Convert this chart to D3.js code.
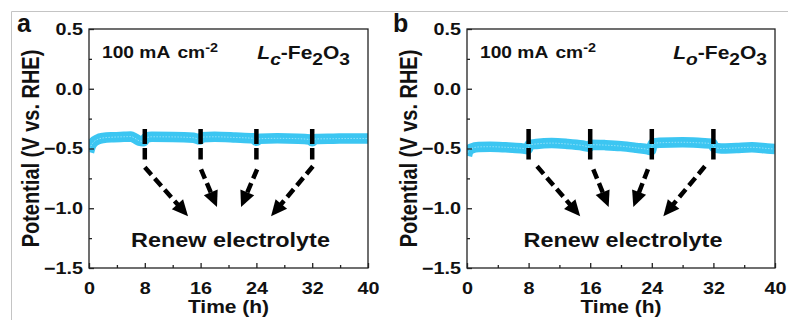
<!DOCTYPE html>
<html>
<head>
<meta charset="utf-8">
<script src="https://cdn.jsdelivr.net/npm/d3@7"></script>
<style>
  html, body { margin: 0; padding: 0; background: #fff; }
  svg { display: block; font-family: "Liberation Sans", Arial, sans-serif; font-weight: bold; }
</style>
</head>
<body>
<svg id="fig" width="788" height="320"></svg>
<script>
// Potential vs. time at 100 mA cm-2; the electrolyte is renewed every 8 h.
const timeLc = [0, 0.2, 0.6, 1.2, 2, 3.5, 5, 6, 6.6, 7.2, 7.8, 8.2, 9, 12, 15, 15.9, 16.2, 18, 21, 23.5, 24, 24.5, 27, 30, 31.6, 32, 32.5, 35, 38, 40];
const potentialLc = [-0.53, -0.49, -0.45, -0.425, -0.412, -0.405, -0.402, -0.40, -0.415, -0.435, -0.44, -0.41, -0.402, -0.403, -0.41, -0.425, -0.405, -0.402, -0.408, -0.415, -0.435, -0.418, -0.415, -0.418, -0.425, -0.44, -0.42, -0.418, -0.416, -0.416];

const timeLo = [0, 0.2, 0.6, 1.5, 3, 5, 7, 7.9, 8.1, 9, 11, 13, 15, 15.9, 16.1, 18, 20, 22, 23.5, 23.9, 24.1, 25, 28, 30, 31.9, 32.1, 33, 35, 37, 39, 40];
const potentialLo = [-0.56, -0.52, -0.50, -0.487, -0.485, -0.49, -0.498, -0.505, -0.47, -0.462, -0.455, -0.462, -0.475, -0.485, -0.468, -0.472, -0.48, -0.495, -0.508, -0.515, -0.462, -0.452, -0.448, -0.452, -0.46, -0.49, -0.50, -0.495, -0.49, -0.50, -0.505];

const renewTimes = [8, 16, 24, 32];
const renewMarkSpan = [-0.337, -0.592];   // potential range covered by each renewal mark

const xTickValues = [0, 8, 16, 24, 32, 40];
const xTickLabels = ["0", "8", "16", "24", "32", "40"];
const xMinorTicks = [4, 12, 20, 28, 36];
const yTickValues = [0.5, 0, -0.5, -1, -1.5];
const yTickLabels = ["0.5", "0.0", "\u22120.5", "\u22121.0", "\u22121.5"];
const yMinorTicks = [0.25, -0.25, -0.75, -1.25];

// Annotation arrows in data units: [t0, V0, t1, V1]
const arrowsLc = [[8.0, -0.657, 14.2, -1.067], [16.06, -0.674, 18.35, -0.99], [24.1, -0.674, 21.8, -0.99], [32.1, -0.649, 26.1, -1.067]];
const arrowsLo = [[9.1, -0.649, 14.7, -1.067], [16.4, -0.674, 18.4, -0.99], [23.5, -0.674, 21.6, -0.99], [30.9, -0.649, 25.5, -1.067]];

const SX = 1.2;               // horizontal glyph stretch used for all labels
const BLUE = "#3cc6f2";
const INK = "#111";

const svg = d3.select("#fig");

// thin grey figure border
svg.append("path")
  .attr("d", "M11.5,320 L11.5,11.5 L788,11.5")
  .attr("fill", "none").attr("stroke", "#c4c4c4").attr("stroke-width", 1);

function stretchedText(g, x, y, anchor, size) {
  return g.append("text")
    .attr("transform", `translate(${x},${y}) scale(${SX},1)`)
    .attr("text-anchor", anchor)
    .attr("font-size", size)
    .attr("fill", INK);
}

function drawPanel(cfg) {
  const g = svg.append("g");
  const x = d3.scaleLinear().domain([0, 40]).range([cfg.left, cfg.right]);
  const y = d3.scaleLinear().domain([-1.5, 0.5]).range([cfg.bottom, cfg.top]);

  const clipId = "clip-" + cfg.id;
  svg.append("clipPath").attr("id", clipId)
    .append("rect")
    .attr("x", cfg.left).attr("y", cfg.top)
    .attr("width", cfg.right - cfg.left).attr("height", cfg.bottom - cfg.top);

  // measured trace
  const pts = cfg.time.map((t, i) => [t, cfg.potential[i]]);
  const line = d3.line().x(d => x(d[0])).y(d => y(d[1])).curve(d3.curveMonotoneX);
  const trace = g.append("g").attr("clip-path", `url(#${clipId})`);
  trace.append("path").attr("d", line(pts))
    .attr("fill", "none").attr("stroke", BLUE).attr("stroke-width", 10.5)
    .attr("stroke-linejoin", "round").attr("stroke-linecap", "butt");
  trace.append("path").attr("d", line(pts))
    .attr("fill", "none").attr("stroke", "#c8f1fd").attr("stroke-width", 1)
    .attr("stroke-dasharray", "1.5 1.5").attr("opacity", 0.6);

  // electrolyte renewal marks
  g.selectAll(".renew").data(renewTimes).join("line")
    .attr("x1", d => x(d)).attr("x2", d => x(d))
    .attr("y1", y(renewMarkSpan[0])).attr("y2", y(renewMarkSpan[1]))
    .attr("stroke", "#000").attr("stroke-width", 4.5)
    .attr("stroke-dasharray", "15 4");

  // dashed arrows pointing at the caption
  const headLen = 16, headW = 15;
  cfg.arrows.forEach(a => {
    const x0 = x(a[0]), y0 = y(a[1]), x1 = x(a[2]), y1 = y(a[3]);
    const dx = x1 - x0, dy = y1 - y0, len = Math.hypot(dx, dy);
    const ux = dx / len, uy = dy / len;
    const bx = x1 - ux * headLen, by = y1 - uy * headLen;
    g.append("line")
      .attr("x1", x0).attr("y1", y0).attr("x2", bx + ux * 1).attr("y2", by + uy * 1)
      .attr("stroke", "#000").attr("stroke-width", 4.5)
      .attr("stroke-dasharray", "10 5");
    const px = -uy * headW / 2, py = ux * headW / 2;
    g.append("path")
      .attr("d", `M${x1},${y1} L${bx + px},${by + py} L${bx - px},${by - py} Z`)
      .attr("fill", "#000");
  });

  // frame
  g.append("rect")
    .attr("x", cfg.left).attr("y", cfg.top)
    .attr("width", cfg.right - cfg.left).attr("height", cfg.bottom - cfg.top)
    .attr("fill", "none").attr("stroke", "#222").attr("stroke-width", 1.3);

  // bottom axis
  const xAxis = d3.axisBottom(x).tickValues(xTickValues)
    .tickFormat((d, i) => xTickLabels[i]).tickSizeInner(-5).tickSizeOuter(0).tickPadding(14);
  const gx = g.append("g").attr("transform", `translate(0,${cfg.bottom})`).call(xAxis);
  gx.select(".domain").remove();
  gx.selectAll("line").attr("stroke", "#222").attr("stroke-width", 1.3);
  gx.selectAll("text").attr("font-size", 16.5).attr("font-weight", "bold").attr("fill", INK)
    .attr("font-family", "Liberation Sans, Arial, sans-serif")
    .attr("transform", `scale(${SX},1)`);
  const gxm = g.append("g").attr("transform", `translate(0,${cfg.bottom})`)
    .call(d3.axisBottom(x).tickValues(xMinorTicks).tickFormat("").tickSizeInner(-3).tickSizeOuter(0));
  gxm.select(".domain").remove();
  gxm.selectAll("line").attr("stroke", "#222").attr("stroke-width", 1.3);

  // left axis
  const yAxis = d3.axisLeft(y).tickValues(yTickValues)
    .tickFormat((d, i) => yTickLabels[i]).tickSizeInner(-5).tickSizeOuter(0).tickPadding(5);
  const gy = g.append("g").attr("transform", `translate(${cfg.left},0)`).call(yAxis);
  gy.select(".domain").remove();
  gy.selectAll("line").attr("stroke", "#222").attr("stroke-width", 1.3);
  gy.selectAll("text").attr("font-size", 16.5).attr("font-weight", "bold").attr("fill", INK)
    .attr("font-family", "Liberation Sans, Arial, sans-serif")
    .attr("transform", `scale(${SX},1)`);
  const gym = g.append("g").attr("transform", `translate(${cfg.left},0)`)
    .call(d3.axisLeft(y).tickValues(yMinorTicks).tickFormat("").tickSizeInner(-3).tickSizeOuter(0));
  gym.select(".domain").remove();
  gym.selectAll("line").attr("stroke", "#222").attr("stroke-width", 1.3);

  // axis titles
  const midX = (cfg.left + cfg.right) / 2;
  stretchedText(g, midX, 313, "middle", 17.5).text("Time (h)");
  g.append("text")
    .attr("transform", `translate(${cfg.left - 50.5},${(cfg.top + cfg.bottom) / 2}) scale(${SX},1) rotate(-90)`)
    .attr("text-anchor", "middle").attr("font-size", 20).attr("fill", INK)
    .text("Potential (V vs. RHE)");

  // panel letter
  g.append("text").attr("x", cfg.letterX).attr("y", 32)
    .attr("font-size", 25).attr("fill", INK).text(cfg.letter);

  // current density
  const cd = stretchedText(g, cfg.left + 13, 58, "start", 16);
  cd.append("tspan").text("100 mA");
  cd.append("tspan").attr("dx", 1.5).text("\u00a0cm");
  cd.append("tspan").attr("font-size", 12).attr("dy", -6).text("-2");

  // sample name
  const nm = stretchedText(g, cfg.right - cfg.nameInset, 59, "end", 17.5);
  nm.append("tspan").attr("font-style", "italic").text("L");
  nm.append("tspan").attr("font-style", "italic").attr("font-size", 16).attr("dy", 6).text(cfg.sub);
  nm.append("tspan").attr("dy", -6).text("-Fe");
  nm.append("tspan").attr("font-size", 16).attr("dy", 6).text("2");
  nm.append("tspan").attr("dy", -6).text("O");
  nm.append("tspan").attr("font-size", 16).attr("dy", 6).text("3");

  // caption
  stretchedText(g, midX + 2, 247, "middle", 19.5).text("Renew electrolyte");
}

drawPanel({ id: "a", letter: "a", letterX: 17, sub: "c", nameInset: 18,
  left: 89, right: 368, top: 29, bottom: 268,
  time: timeLc, potential: potentialLc, arrows: arrowsLc });
drawPanel({ id: "b", letter: "b", letterX: 393, sub: "o", nameInset: 8,
  left: 467, right: 775, top: 29, bottom: 268,
  time: timeLo, potential: potentialLo, arrows: arrowsLo });
</script>
</body>
</html>
